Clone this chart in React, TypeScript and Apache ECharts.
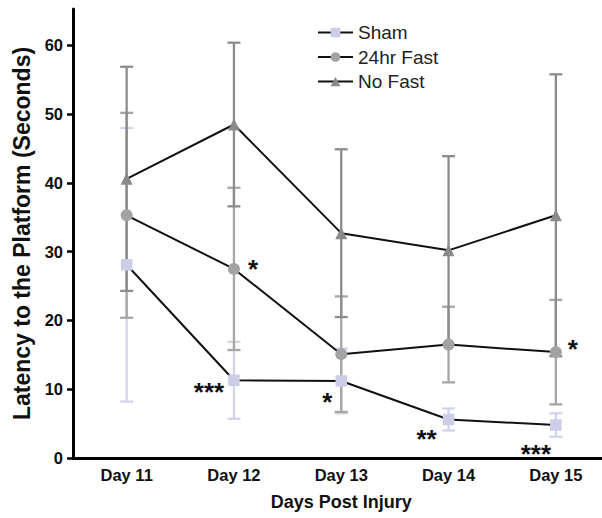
import React, { useEffect, useRef } from "react";
import * as echarts from "echarts";

const categories = ["Day 11", "Day 12", "Day 13", "Day 14", "Day 15"];
const shamMean = [28.1, 11.3, 11.2, 5.6, 4.8];
const shamErr = [19.9, 5.6, 4.7, 1.6, 1.7];
const fastMean = [35.3, 27.5, 15.1, 16.5, 15.4];
const fastErr = [14.9, 11.8, 8.4, 5.5, 7.6];
const noFastMean = [40.6, 48.5, 32.7, 30.2, 35.3];
const noFastErr = [16.3, 11.9, 12.2, 13.7, 20.5];
const shamSig = ["", "***", "*", "**", "***"];
const fastSig = ["", "*", "", "", "*"];
const yTicks = [0, 10, 20, 30, 40, 50, 60];

// label placement (style, not data)
const shamSigOffset = [[0, 0], [-25, 12], [-14, 21], [-22, 20], [-20, 29]];
const fastSigOffset = [[0, 0], [19, 0], [0, 0], [0, 0], [17, -3]];

const FONT = "'Liberation Sans', Arial, Helvetica, sans-serif";

function errorSeries(name: string, mean: number[], err: number[], color: string, z: number) {
  return {
    type: "custom",
    name,
    z,
    silent: true,
    data: mean.map((m, i) => [i, m - err[i], m + err[i]]),
    encode: { x: 0, y: [1, 2] },
    renderItem: (_params: any, api: any) => {
      const i = api.value(0);
      const lo = api.coord([i, api.value(1)]);
      const hi = api.coord([i, api.value(2)]);
      const hw = 6.5;
      const style = { stroke: color, lineWidth: 2.3 };
      return {
        type: "group",
        children: [
          { type: "line", shape: { x1: lo[0], y1: hi[1], x2: lo[0], y2: lo[1] }, style },
          { type: "line", shape: { x1: lo[0] - hw, y1: hi[1], x2: lo[0] + hw, y2: hi[1] }, style },
          { type: "line", shape: { x1: lo[0] - hw, y1: lo[1], x2: lo[0] + hw, y2: lo[1] }, style },
        ],
      };
    },
  };
}

function lineData(mean: number[], sig: string[], offsets: number[][]) {
  return mean.map((v, i) => ({
    value: v,
    label: sig[i]
      ? { show: true, formatter: sig[i], offset: offsets[i] }
      : { show: false },
  }));
}

const sigLabel = {
  position: "inside",
  fontSize: 26,
  fontWeight: "bold",
  fontFamily: FONT,
  color: "#111",
  align: "center",
  verticalAlign: "middle",
  textBorderWidth: 0,
};

export default function App() {
  const ref = useRef<HTMLDivElement>(null);
  useEffect(() => {
    if (!ref.current) return;
    const chart = echarts.init(ref.current, null, { renderer: "svg" });
    const option: any = {
      animation: false,
      backgroundColor: "#ffffff",
      grid: {
        left: 73,
        top: 9,
        width: 536.5,
        height: 449,
        containLabel: false,
        outerBoundsMode: "none",
      },
      legend: {
        data: ["Sham", "24hr Fast", "No Fast"],
        orient: "vertical",
        left: 317,
        top: 23,
        padding: 0,
        itemWidth: 35,
        itemHeight: 12,
        itemGap: 5.5,
        textStyle: { fontSize: 19, fontFamily: FONT, color: "#222" },
        selectedMode: false,
      },
      xAxis: {
        type: "category",
        data: categories,
        boundaryGap: true,
        axisLine: { lineStyle: { color: "#000", width: 3 } },
        axisTick: { alignWithLabel: true, length: 6, lineStyle: { color: "#000", width: 2.5 } },
        axisLabel: { fontSize: 16.5, fontWeight: "bold", fontFamily: FONT, color: "#111", margin: 8 },
        name: "Days Post Injury",
        nameLocation: "middle",
        nameGap: 35,
        nameTextStyle: { fontSize: 18, fontWeight: "bold", fontFamily: FONT, color: "#111" },
        splitLine: { show: false },
      },
      yAxis: {
        type: "value",
        min: 0,
        max: 65.3,
        interval: 10,
        axisLine: { show: true, lineStyle: { color: "#000", width: 3 } },
        axisTick: { show: true, length: 6, lineStyle: { color: "#000", width: 2.5 }, customValues: yTicks },
        axisLabel: { fontSize: 16.5, fontWeight: "bold", fontFamily: FONT, color: "#111", margin: 10, customValues: yTicks },
        splitLine: { show: false },
        name: "Latency to the Platform (Seconds)",
        nameLocation: "middle",
        nameGap: 34,
        nameTextStyle: { fontSize: 23, fontWeight: "bold", fontFamily: FONT, color: "#111" },
      },
      series: [
        errorSeries("shamErr", shamMean, shamErr, "#d3d3ec", 1),
        errorSeries("fastErr", fastMean, fastErr, "#a6a6a6", 2),
        errorSeries("noFastErr", noFastMean, noFastErr, "#8c8c8c", 3),
        {
          type: "line",
          name: "Sham",
          z: 5,
          data: lineData(shamMean, shamSig, shamSigOffset),
          symbol: "rect",
          symbolSize: 11.5,
          itemStyle: { color: "#cdcde8", borderWidth: 0 },
          lineStyle: { color: "#111", width: 2 },
          label: sigLabel,
        },
        {
          type: "line",
          name: "24hr Fast",
          z: 5,
          data: lineData(fastMean, fastSig, fastSigOffset),
          symbol: "circle",
          symbolSize: 12,
          itemStyle: { color: "#a3a3a3", borderWidth: 0 },
          lineStyle: { color: "#111", width: 2 },
          label: sigLabel,
        },
        {
          type: "line",
          name: "No Fast",
          z: 5,
          data: noFastMean,
          symbol: "triangle",
          symbolSize: 12,
          itemStyle: { color: "#8a8a8a", borderWidth: 0 },
          lineStyle: { color: "#111", width: 2 },
        },
      ],
    };
    chart.setOption(option);
    return () => chart.dispose();
  }, []);
  return (
    <div
      ref={ref}
      style={{ position: "absolute", left: 0, top: 0, width: 602, height: 518 }}
    />
  );
}
